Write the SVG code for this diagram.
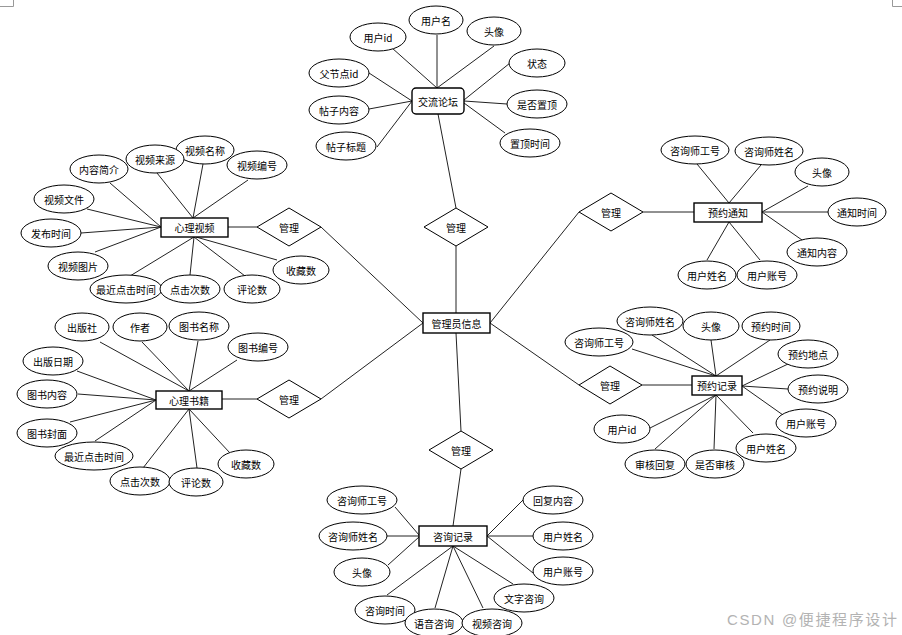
<svg xmlns="http://www.w3.org/2000/svg" width="902" height="635" viewBox="0 0 902 635">
<style>
.e{fill:#fff;stroke:#000;stroke-width:1}
.r{fill:#fff;stroke:#000;stroke-width:1.4}
.d{fill:#fff;stroke:#000;stroke-width:1}
.c line{stroke:#222;stroke-width:1}
text{font-family:"Noto Sans CJK SC","Liberation Sans",sans-serif;font-size:10px;fill:#000;text-anchor:middle;dominant-baseline:central}
.wm{font-family:"Liberation Sans","Noto Sans CJK SC",sans-serif;font-size:15px;fill:#b3b3b3;text-anchor:start;dominant-baseline:alphabetic}
.mk{stroke:#999;stroke-width:1;fill:none}
</style>
<rect x="0" y="0" width="902" height="635" fill="#fff"/>
<path class="mk" d="M13.5 0V6.5H0M892.5 0V6.5H902"/>
<g id="connectors" class="c">
<!-- admin to relations -->
<line x1="456" y1="246" x2="456" y2="313"/>
<line x1="456" y1="208" x2="438" y2="114"/>
<line x1="321" y1="227" x2="423" y2="323"/>
<line x1="228" y1="227" x2="257" y2="227"/>
<line x1="321" y1="399" x2="423" y2="323"/>
<line x1="222" y1="399" x2="257" y2="399"/>
<line x1="579" y1="212" x2="490" y2="323"/>
<line x1="643" y1="212" x2="694" y2="212"/>
<line x1="579" y1="385" x2="490" y2="323"/>
<line x1="642" y1="385" x2="692" y2="385"/>
<line x1="461" y1="431" x2="456" y2="333"/>
<line x1="461" y1="469" x2="453" y2="526"/>
<!-- forum attrs -->
<line x1="392" y1="48" x2="437" y2="88"/>
<line x1="437" y1="35" x2="437" y2="88"/>
<line x1="494" y1="46" x2="437" y2="88"/>
<line x1="510" y1="63" x2="464" y2="100"/>
<line x1="507" y1="104" x2="464" y2="101"/>
<line x1="505" y1="133" x2="464" y2="103"/>
<line x1="369" y1="73" x2="412" y2="101"/>
<line x1="369" y1="109" x2="412" y2="101"/>
<line x1="377" y1="147" x2="412" y2="101"/>
<!-- video attrs -->
<line x1="203" y1="164" x2="193" y2="218"/>
<line x1="157" y1="173" x2="193" y2="218"/>
<line x1="248" y1="180" x2="193" y2="218"/>
<line x1="110" y1="183" x2="161" y2="227"/>
<line x1="87" y1="209" x2="161" y2="227"/>
<line x1="81" y1="233" x2="161" y2="227"/>
<line x1="95" y1="252" x2="161" y2="227"/>
<line x1="130" y1="276" x2="194" y2="237"/>
<line x1="190" y1="275" x2="194" y2="237"/>
<line x1="245" y1="276" x2="194" y2="237"/>
<line x1="277" y1="260" x2="196" y2="237"/>
<!-- book attrs -->
<line x1="100" y1="342" x2="189" y2="391"/>
<line x1="142" y1="342" x2="189" y2="391"/>
<line x1="198" y1="341" x2="189" y2="391"/>
<line x1="237" y1="360" x2="189" y2="391"/>
<line x1="77" y1="371" x2="156" y2="400"/>
<line x1="78" y1="394" x2="156" y2="400"/>
<line x1="70" y1="422" x2="156" y2="400"/>
<line x1="95" y1="441" x2="156" y2="400"/>
<line x1="143" y1="468" x2="189" y2="409"/>
<line x1="197" y1="468" x2="189" y2="409"/>
<line x1="230" y1="453" x2="189" y2="409"/>
<!-- notice attrs -->
<line x1="697" y1="164" x2="729" y2="203"/>
<line x1="761" y1="165" x2="729" y2="203"/>
<line x1="808" y1="186" x2="762" y2="212"/>
<line x1="828" y1="212" x2="762" y2="212"/>
<line x1="802" y1="240" x2="762" y2="212"/>
<line x1="707" y1="260" x2="729" y2="222"/>
<line x1="760" y1="260" x2="729" y2="222"/>
<!-- appointment attrs -->
<line x1="652" y1="335" x2="716" y2="376"/>
<line x1="632" y1="349" x2="716" y2="376"/>
<line x1="711" y1="340" x2="716" y2="376"/>
<line x1="770" y1="340" x2="716" y2="376"/>
<line x1="788" y1="364" x2="742" y2="386"/>
<line x1="788" y1="389" x2="742" y2="386"/>
<line x1="783" y1="415" x2="742" y2="386"/>
<line x1="753" y1="433" x2="716" y2="395"/>
<line x1="714" y1="449" x2="716" y2="395"/>
<line x1="655" y1="449" x2="716" y2="395"/>
<line x1="650" y1="428" x2="716" y2="395"/>
<!-- consult attrs -->
<line x1="395" y1="507" x2="419" y2="535"/>
<line x1="387" y1="536" x2="419" y2="536"/>
<line x1="388" y1="565" x2="419" y2="537"/>
<line x1="387" y1="595" x2="453" y2="546"/>
<line x1="435" y1="608" x2="453" y2="546"/>
<line x1="483" y1="608" x2="453" y2="546"/>
<line x1="513" y1="584" x2="453" y2="546"/>
<line x1="523" y1="500" x2="487" y2="536"/>
<line x1="533" y1="536" x2="487" y2="536"/>
<line x1="533" y1="573" x2="487" y2="536"/>
</g>

<!-- entities -->
<g id="admin"><rect class="r" x="423" y="313" width="67" height="20"/><text x="456.5" y="323">管理员信息</text></g>
<g id="forum"><rect class="r" x="412" y="88" width="52" height="26" rx="4"/><text x="438" y="101">交流论坛</text></g>
<g id="video"><rect class="r" x="161" y="218" width="67" height="19"/><text x="194.5" y="227.5">心理视频</text></g>
<g id="book"><rect class="r" x="156" y="391" width="66" height="18"/><text x="189" y="400">心理书籍</text></g>
<g id="notice"><rect class="r" x="694" y="203" width="68" height="19"/><text x="728" y="212.5">预约通知</text></g>
<g id="appointment"><rect class="r" x="692" y="376" width="50" height="19"/><text x="717" y="385.5">预约记录</text></g>
<g id="consult"><rect class="r" x="419" y="526" width="68" height="20"/><text x="453" y="536">咨询记录</text></g>

<!-- relationships -->
<g id="rel-forum"><polygon class="d" points="456,208 488,227 456,246 424,227"/><text x="456" y="227">管理</text></g>
<g id="rel-video"><polygon class="d" points="289,208 321,227 289,246 257,227"/><text x="289" y="227">管理</text></g>
<g id="rel-book"><polygon class="d" points="289,380 321,399 289,418 257,399"/><text x="289" y="399">管理</text></g>
<g id="rel-notice"><polygon class="d" points="611,193 643,212 611,231 579,212"/><text x="611" y="212">管理</text></g>
<g id="rel-appointment"><polygon class="d" points="610,366 642,385 610,404 579,385"/><text x="610" y="385">管理</text></g>
<g id="rel-consult"><polygon class="d" points="461,431 493,450 461,469 429,450"/><text x="461" y="450">管理</text></g>

<!-- forum attributes -->
<g id="f-uid"><ellipse class="e" cx="378" cy="37" rx="28" ry="14"/><text x="378" y="37">用户id</text></g>
<g id="f-uname"><ellipse class="e" cx="436" cy="20" rx="27" ry="14"/><text x="436" y="20">用户名</text></g>
<g id="f-avatar"><ellipse class="e" cx="494" cy="31" rx="27" ry="14"/><text x="494" y="31">头像</text></g>
<g id="f-status"><ellipse class="e" cx="537" cy="63" rx="28" ry="14"/><text x="537" y="63">状态</text></g>
<g id="f-top"><ellipse class="e" cx="537" cy="104" rx="30" ry="14"/><text x="537" y="104">是否置顶</text></g>
<g id="f-toptime"><ellipse class="e" cx="530" cy="143" rx="30" ry="14"/><text x="530" y="143">置顶时间</text></g>
<g id="f-parent"><ellipse class="e" cx="339" cy="73" rx="30" ry="14"/><text x="339" y="73">父节点id</text></g>
<g id="f-content"><ellipse class="e" cx="339" cy="110" rx="30" ry="14"/><text x="339" y="110">帖子内容</text></g>
<g id="f-title"><ellipse class="e" cx="346" cy="146" rx="30" ry="14"/><text x="346" y="146">帖子标题</text></g>

<!-- video attributes -->
<g id="v-name"><ellipse class="e" cx="205" cy="150" rx="29" ry="14"/><text x="205" y="150">视频名称</text></g>
<g id="v-source"><ellipse class="e" cx="155" cy="159" rx="29" ry="14"/><text x="155" y="159">视频来源</text></g>
<g id="v-intro"><ellipse class="e" cx="99" cy="169" rx="29" ry="14"/><text x="99" y="169">内容简介</text></g>
<g id="v-no"><ellipse class="e" cx="257" cy="165" rx="30" ry="14"/><text x="257" y="165">视频编号</text></g>
<g id="v-file"><ellipse class="e" cx="64" cy="199" rx="30" ry="14"/><text x="64" y="199">视频文件</text></g>
<g id="v-time"><ellipse class="e" cx="51" cy="233" rx="30" ry="14"/><text x="51" y="233">发布时间</text></g>
<g id="v-pic"><ellipse class="e" cx="78" cy="266" rx="30" ry="14"/><text x="78" y="266">视频图片</text></g>
<g id="v-last"><ellipse class="e" cx="126" cy="289" rx="36" ry="14"/><text x="126" y="289">最近点击时间</text></g>
<g id="v-clicks"><ellipse class="e" cx="190" cy="289" rx="30" ry="14"/><text x="190" y="289">点击次数</text></g>
<g id="v-comments"><ellipse class="e" cx="252" cy="289" rx="28" ry="14"/><text x="252" y="289">评论数</text></g>
<g id="v-fav"><ellipse class="e" cx="301" cy="270" rx="28" ry="14"/><text x="301" y="270">收藏数</text></g>

<!-- book attributes -->
<g id="b-pub"><ellipse class="e" cx="82" cy="327" rx="27" ry="14"/><text x="82" y="327">出版社</text></g>
<g id="b-author"><ellipse class="e" cx="140" cy="327" rx="27" ry="14"/><text x="140" y="327">作者</text></g>
<g id="b-name"><ellipse class="e" cx="199" cy="326" rx="30" ry="14"/><text x="199" y="326">图书名称</text></g>
<g id="b-no"><ellipse class="e" cx="258" cy="347" rx="30" ry="14"/><text x="258" y="347">图书编号</text></g>
<g id="b-date"><ellipse class="e" cx="53" cy="361" rx="30" ry="14"/><text x="53" y="361">出版日期</text></g>
<g id="b-content"><ellipse class="e" cx="47" cy="394" rx="30" ry="14"/><text x="47" y="394">图书内容</text></g>
<g id="b-cover"><ellipse class="e" cx="47" cy="433" rx="30" ry="14"/><text x="47" y="433">图书封面</text></g>
<g id="b-last"><ellipse class="e" cx="94" cy="456" rx="39" ry="14"/><text x="94" y="456">最近点击时间</text></g>
<g id="b-clicks"><ellipse class="e" cx="140" cy="481" rx="30" ry="14"/><text x="140" y="481">点击次数</text></g>
<g id="b-comments"><ellipse class="e" cx="196" cy="482" rx="27" ry="14"/><text x="196" y="482">评论数</text></g>
<g id="b-fav"><ellipse class="e" cx="246" cy="464" rx="28" ry="14"/><text x="246" y="464">收藏数</text></g>

<!-- notice attributes -->
<g id="n-cno"><ellipse class="e" cx="695" cy="150" rx="34" ry="14"/><text x="695" y="150">咨询师工号</text></g>
<g id="n-cname"><ellipse class="e" cx="769" cy="151" rx="34" ry="14"/><text x="769" y="151">咨询师姓名</text></g>
<g id="n-avatar"><ellipse class="e" cx="822" cy="172" rx="27" ry="14"/><text x="822" y="172">头像</text></g>
<g id="n-time"><ellipse class="e" cx="857" cy="212" rx="29" ry="14"/><text x="857" y="212">通知时间</text></g>
<g id="n-content"><ellipse class="e" cx="817" cy="252" rx="30" ry="14"/><text x="817" y="252">通知内容</text></g>
<g id="n-uname"><ellipse class="e" cx="707" cy="275" rx="29" ry="14"/><text x="707" y="275">用户姓名</text></g>
<g id="n-uacc"><ellipse class="e" cx="767" cy="275" rx="30" ry="14"/><text x="767" y="275">用户账号</text></g>

<!-- appointment attributes -->
<g id="a-cname"><ellipse class="e" cx="650" cy="321" rx="33" ry="14"/><text x="650" y="321">咨询师姓名</text></g>
<g id="a-cno"><ellipse class="e" cx="599" cy="342" rx="34" ry="14"/><text x="599" y="342">咨询师工号</text></g>
<g id="a-avatar"><ellipse class="e" cx="711" cy="326" rx="28" ry="14"/><text x="711" y="326">头像</text></g>
<g id="a-time"><ellipse class="e" cx="771" cy="326" rx="29" ry="14"/><text x="771" y="326">预约时间</text></g>
<g id="a-place"><ellipse class="e" cx="808" cy="354" rx="30" ry="14"/><text x="808" y="354">预约地点</text></g>
<g id="a-desc"><ellipse class="e" cx="818" cy="389" rx="30" ry="14"/><text x="818" y="389">预约说明</text></g>
<g id="a-uacc"><ellipse class="e" cx="806" cy="423" rx="30" ry="14"/><text x="806" y="423">用户账号</text></g>
<g id="a-uname"><ellipse class="e" cx="766" cy="448" rx="30" ry="14"/><text x="766" y="448">用户姓名</text></g>
<g id="a-checked"><ellipse class="e" cx="715" cy="464" rx="29" ry="14"/><text x="715" y="464">是否审核</text></g>
<g id="a-reply"><ellipse class="e" cx="655" cy="464" rx="30" ry="14"/><text x="655" y="464">审核回复</text></g>
<g id="a-uid"><ellipse class="e" cx="622" cy="429" rx="28" ry="14"/><text x="622" y="429">用户id</text></g>

<!-- consult attributes -->
<g id="c-cno"><ellipse class="e" cx="362" cy="500" rx="35" ry="14"/><text x="362" y="500">咨询师工号</text></g>
<g id="c-cname"><ellipse class="e" cx="353" cy="536" rx="34" ry="14"/><text x="353" y="536">咨询师姓名</text></g>
<g id="c-avatar"><ellipse class="e" cx="362" cy="572" rx="28" ry="14"/><text x="362" y="572">头像</text></g>
<g id="c-time"><ellipse class="e" cx="385" cy="610" rx="30" ry="14"/><text x="385" y="610">咨询时间</text></g>
<g id="c-voice"><ellipse class="e" cx="434" cy="623" rx="29" ry="14"/><text x="434" y="623">语音咨询</text></g>
<g id="c-video"><ellipse class="e" cx="492" cy="623" rx="30" ry="14"/><text x="492" y="623">视频咨询</text></g>
<g id="c-text"><ellipse class="e" cx="524" cy="598" rx="30" ry="14"/><text x="524" y="598">文字咨询</text></g>
<g id="c-reply"><ellipse class="e" cx="553" cy="500" rx="30" ry="14"/><text x="553" y="500">回复内容</text></g>
<g id="c-uname"><ellipse class="e" cx="563" cy="536" rx="30" ry="14"/><text x="563" y="536">用户姓名</text></g>
<g id="c-uacc"><ellipse class="e" cx="563" cy="571" rx="30" ry="14"/><text x="563" y="571">用户账号</text></g>

<text class="wm" x="727" y="625" textLength="170" lengthAdjust="spacing">CSDN @便捷程序设计</text>
</svg>
